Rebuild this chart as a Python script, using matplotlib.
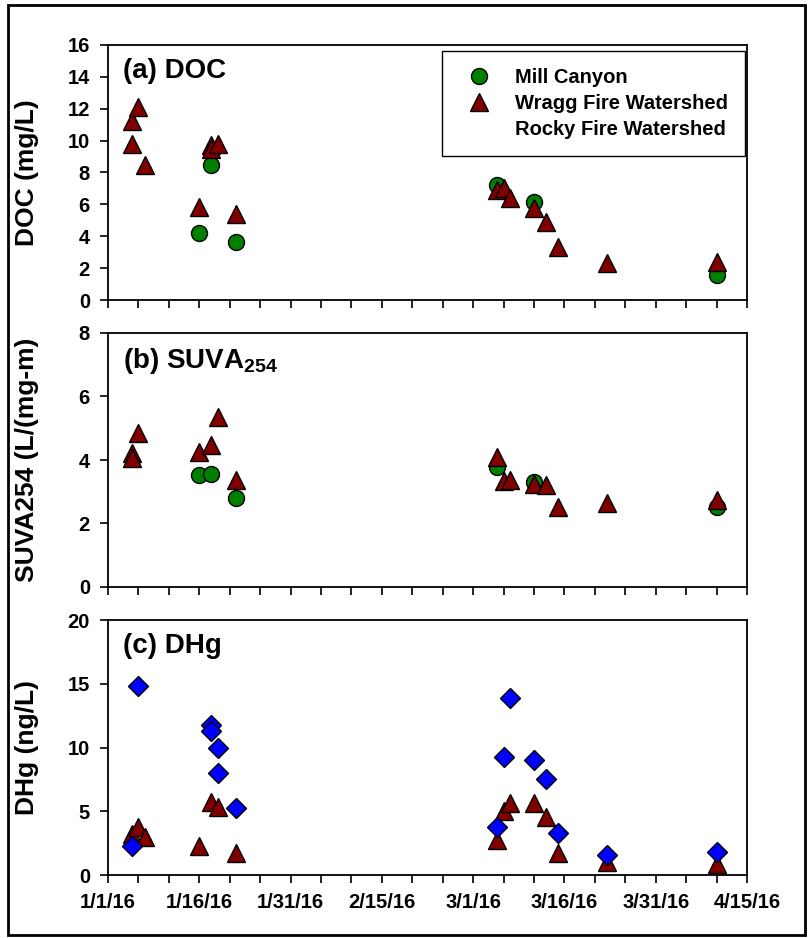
import matplotlib
matplotlib.use("Agg")
import matplotlib.pyplot as plt
import matplotlib.dates as mdates
from matplotlib.lines import Line2D
from matplotlib.patches import Rectangle
from matplotlib.ticker import FixedLocator, FuncFormatter
import pandas as pd

plt.rcParams['font.family'] = ['Liberation Sans', 'DejaVu Sans']
plt.rcParams['font.weight'] = 'bold'
plt.rcParams['axes.labelweight'] = 'bold'
plt.rcParams['mathtext.fontset'] = 'custom'
plt.rcParams['mathtext.rm'] = 'Liberation Sans:bold'
plt.rcParams['mathtext.bf'] = 'Liberation Sans:bold'

# ---------------- data ----------------
# (a) DOC (mg/L)
mill_doc_dates = ['2016-01-16', '2016-01-18', '2016-01-22', '2016-03-05', '2016-03-11', '2016-04-10']
mill_doc = [4.18, 8.5, 3.66, 7.2, 6.12, 1.57]
wragg_doc_dates = ['2016-01-05', '2016-01-05', '2016-01-06', '2016-01-07', '2016-01-16', '2016-01-18',
                   '2016-01-18', '2016-01-19', '2016-01-22', '2016-03-05', '2016-03-06', '2016-03-07',
                   '2016-03-11', '2016-03-13', '2016-03-15', '2016-03-23', '2016-04-10']
wragg_doc = [11.25, 9.8, 12.1, 8.45, 5.85, 9.7, 9.45, 9.8, 5.37, 6.9, 7.0, 6.38, 5.75, 4.9, 3.34, 2.34, 2.4]

# (b) SUVA254 (L/(mg-m))
mill_suva_dates = ['2016-01-16', '2016-01-18', '2016-01-22', '2016-03-05', '2016-03-11', '2016-04-10']
mill_suva = [3.53, 3.57, 2.79, 3.78, 3.32, 2.53]
wragg_suva_dates = ['2016-01-05', '2016-01-05', '2016-01-06', '2016-01-16', '2016-01-18', '2016-01-19',
                    '2016-01-22', '2016-03-05', '2016-03-06', '2016-03-07', '2016-03-11', '2016-03-13',
                    '2016-03-15', '2016-03-23', '2016-04-10']
wragg_suva = [4.23, 4.05, 4.85, 4.26, 4.47, 5.37, 3.37, 4.09, 3.34, 3.37, 3.24, 3.22, 2.53, 2.63, 2.74]

# (c) DHg (ng/L)
wragg_dhg_dates = ['2016-01-05', '2016-01-06', '2016-01-07', '2016-01-16', '2016-01-18', '2016-01-19',
                   '2016-01-22', '2016-03-05', '2016-03-06', '2016-03-07', '2016-03-11', '2016-03-13',
                   '2016-03-15', '2016-03-23', '2016-04-10']
wragg_dhg = [3.2, 3.8, 3.0, 2.3, 5.75, 5.3, 1.75, 2.75, 5.05, 5.68, 5.68, 4.58, 1.75, 1.0, 0.86]
rocky_dhg_dates = ['2016-01-05', '2016-01-06', '2016-01-18', '2016-01-18', '2016-01-19', '2016-01-19',
                   '2016-01-22', '2016-03-05', '2016-03-06', '2016-03-07', '2016-03-11', '2016-03-13',
                   '2016-03-15', '2016-03-23', '2016-04-10']
rocky_dhg = [2.3, 14.86, 11.77, 11.33, 9.94, 7.98, 5.23, 3.79, 9.29, 13.92, 9.03, 7.51, 3.27, 1.57, 1.83]

legend_labels = ['Mill Canyon', 'Wragg Fire Watershed', 'Rocky Fire Watershed']
panel_titles = ['(a) DOC', r'(b) SUVA$_{\mathbf{254}}$', '(c) DHg']
y_labels = ['DOC (mg/L)', 'SUVA254 (L/(mg-m)', 'DHg (ng/L)']
y_limits = [(0, 16), (0, 8), (0, 20)]
y_steps = [2, 2, 5]
x_start, x_end = '2016-01-01', '2016-04-15'

# ---------------- styles ----------------
GREEN = '#008000'
RED = '#800000'
BLUE = '#0000FF'
circ = dict(marker='o', ms=11.5, mfc=GREEN, mec='black', mew=1, ls='none')
tri = dict(marker='^', ms=13, mfc=RED, mec='black', mew=1, ls='none')
dia = dict(marker='D', ms=10.5, mfc=BLUE, mec='black', mew=1, ls='none')

fig = plt.figure(figsize=(8.1, 9.38), dpi=100)
W, H = 810, 938
left_px, right_px = 108, 747
panels_px = [(45, 300), (333, 587), (620, 875)]
axes = []
for top, bot in panels_px:
    ax = fig.add_axes([left_px / W, 1 - bot / H, (right_px - left_px) / W, (bot - top) / H])
    axes.append(ax)

def d(lst):
    return pd.to_datetime(lst)

ax_a, ax_b, ax_c = axes
ax_a.plot(d(mill_doc_dates), mill_doc, **circ)
ax_a.plot(d(wragg_doc_dates), wragg_doc, **tri)
ax_b.plot(d(mill_suva_dates), mill_suva, **circ)
ax_b.plot(d(wragg_suva_dates), wragg_suva, **tri)
ax_c.plot(d(wragg_dhg_dates), wragg_dhg, **tri)
ax_c.plot(d(rocky_dhg_dates), rocky_dhg, **dia)

major = mdates.date2num(pd.date_range(x_start, x_end, freq='15D'))
minor = mdates.date2num(pd.date_range(x_start, x_end, freq='5D'))

def fmt(x, pos):
    t = mdates.num2date(x)
    return f"{t.month}/{t.day}/{t.strftime('%y')}"

for i, ax in enumerate(axes):
    ax.set_xlim(mdates.date2num(pd.Timestamp(x_start)), mdates.date2num(pd.Timestamp(x_end)))
    lo, hi = y_limits[i]
    ax.set_ylim(lo, hi)
    ax.set_yticks(list(range(lo, hi + 1, y_steps[i])))
    ax.xaxis.set_major_locator(FixedLocator(major))
    ax.xaxis.set_minor_locator(FixedLocator(minor))
    ax.xaxis.set_major_formatter(FuncFormatter(fmt))
    ax.tick_params(axis='both', which='both', direction='out', length=6, width=1.2,
                   labelsize=14.5, pad=7)
    for sp in ax.spines.values():
        sp.set_linewidth(1.3)
    if i < 2:
        ax.tick_params(axis='x', labelbottom=False)
    ax.set_ylabel(y_labels[i], fontsize=19, fontweight='bold')
    ax.yaxis.set_label_coords(-0.108, 0.5)
    ax.text(0.023, 0.95, panel_titles[i], transform=ax.transAxes, fontsize=20,
            fontweight='bold', va='top', ha='left')

handles = [Line2D([], [], **circ), Line2D([], [], **tri), Line2D([], [], ls='none', marker='none')]
leg = ax_a.legend(handles, legend_labels, loc='upper right', bbox_to_anchor=(0.997, 0.976),
                  borderaxespad=0, frameon=True, fancybox=False, framealpha=1,
                  edgecolor='black', handlelength=2.0, handletextpad=0.79, borderpad=0.85,
                  labelspacing=0.33, prop={'weight': 'bold', 'size': 14.5})
leg.get_frame().set_linewidth(1.0)

fig.patches.append(Rectangle((8 / W, 3 / H), (805 - 8) / W, (935 - 5) / H, transform=fig.transFigure,
                             fill=False, edgecolor='black', lw=2))

fig.savefig('out.png', dpi=100)
